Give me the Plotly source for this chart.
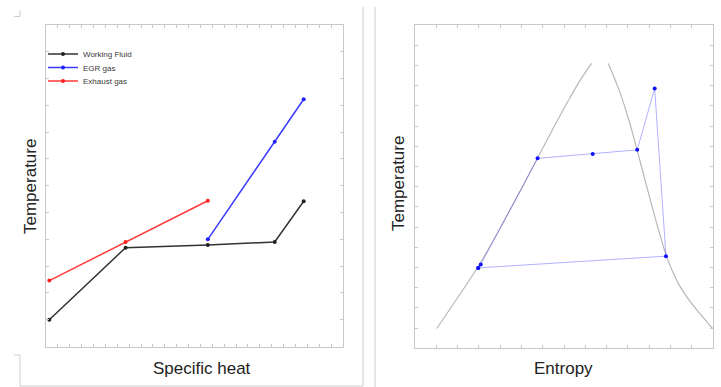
import plotly.graph_objects as go

# ---------------- Data ----------------
# Left panel: Temperature vs Specific heat
wf_x = [0.28, 6.70, 13.62, 19.25, 21.69]
wf_y = [1.00, 3.69, 3.79, 3.90, 5.42]
egr_x = [13.62, 19.25, 21.69]
egr_y = [4.00, 7.64, 9.23]
exh_x = [0.28, 6.70, 13.62]
exh_y = [2.46, 3.90, 5.44]

# Right panel: T-s diagram
dome_left_s = [1.02, 2.0, 3.0, 4.0, 5.0, 5.8, 6.5, 7.2, 7.75, 8.30]
dome_left_T = [0.98, 2.5, 4.1, 5.95, 7.9, 9.5, 10.9, 12.25, 13.25, 14.10]
dome_right_s = [9.08, 9.6, 10.1, 10.5, 10.9, 11.35, 11.8, 12.1, 12.4, 12.8, 13.2, 13.98]
dome_right_T = [14.10, 12.75, 11.1, 9.55, 7.95, 6.2, 4.6, 3.8, 3.15, 2.5, 1.95, 0.98]
cycle_s = [2.97, 3.09, 5.76, 8.35, 10.44, 11.26, 11.79, 2.97]
cycle_T = [3.98, 4.15, 9.40, 9.62, 9.82, 12.86, 4.56, 3.98]

W, H = 721, 387
FONT = "Arial, Liberation Sans, sans-serif"
FRAME = "#c8c8c8"

def px(x):
    return x / W

def py(y):
    return 1 - y / H

fig = go.Figure()

fig.add_trace(go.Scatter(x=wf_x, y=wf_y, mode="lines+markers", name="Working Fluid",
                         line=dict(color="#333333", width=1.5),
                         marker=dict(color="#222222", size=4),
                         xaxis="x", yaxis="y", legend="legend"))
fig.add_trace(go.Scatter(x=egr_x, y=egr_y, mode="lines+markers", name="EGR gas",
                         line=dict(color="#3a3aff", width=1.5),
                         marker=dict(color="#2020ff", size=4),
                         xaxis="x", yaxis="y", legend="legend2"))
fig.add_trace(go.Scatter(x=exh_x, y=exh_y, mode="lines+markers", name="Exhaust gas",
                         line=dict(color="#ff3a3a", width=1.5),
                         marker=dict(color="#ff2020", size=4),
                         xaxis="x", yaxis="y", legend="legend3"))

fig.add_trace(go.Scatter(x=dome_left_s, y=dome_left_T, mode="lines", showlegend=False,
                         line=dict(color="#b8b8b8", width=1.2, shape="spline"),
                         xaxis="x2", yaxis="y2"))
fig.add_trace(go.Scatter(x=dome_right_s, y=dome_right_T, mode="lines", showlegend=False,
                         line=dict(color="#b8b8b8", width=1.2, shape="spline"),
                         xaxis="x2", yaxis="y2"))
fig.add_trace(go.Scatter(x=cycle_s, y=cycle_T, mode="lines+markers", showlegend=False,
                         line=dict(color="rgba(60,60,255,0.4)", width=1),
                         marker=dict(color="#1010ff", size=4),
                         xaxis="x2", yaxis="y2"))

axis_common = dict(showline=True, mirror="ticks", linecolor=FRAME, linewidth=1,
                   ticks="inside", ticklen=3, tickcolor=FRAME, tickwidth=1,
                   showticklabels=False, showgrid=False, zeroline=False, dtick=1)

legend_common = dict(font=dict(family=FONT, size=8, color="#3a3a3a"),
                     bgcolor="rgba(0,0,0,0)", xanchor="left", yanchor="middle",
                     itemwidth=30, tracegroupgap=0)

title_font = dict(family=FONT, size=17, color="#222222")

fig.update_layout(
    width=W, height=H, margin=dict(l=0, r=0, t=0, b=0),
    paper_bgcolor="white", plot_bgcolor="white",
    font=dict(family=FONT),
    xaxis=dict(domain=[px(46), px(343)], range=[0, 25], anchor="y", **axis_common),
    yaxis=dict(domain=[py(346.5), py(25)], range=[0, 12], anchor="x", **axis_common),
    xaxis2=dict(domain=[px(415), px(713)], range=[0, 14], anchor="y2", **axis_common),
    yaxis2=dict(domain=[py(348.3), py(25)], range=[0, 16], anchor="x2", **axis_common),
    legend=dict(x=px(43), y=py(54), **legend_common),
    legend2=dict(x=px(43), y=py(67.5), **legend_common),
    legend3=dict(x=px(43), y=py(81), **legend_common),
    annotations=[
        dict(text="Temperature", x=px(30), y=py(187), xref="paper", yref="paper",
             xanchor="center", yanchor="middle",
             textangle=-90, showarrow=False, font=title_font),
        dict(text="Specific heat", x=px(202), y=py(368), xref="paper", yref="paper",
             xanchor="center", yanchor="middle",
             showarrow=False, font=title_font),
        dict(text="Temperature", x=px(398), y=py(184), xref="paper", yref="paper",
             xanchor="center", yanchor="middle",
             textangle=-90, showarrow=False, font=title_font),
        dict(text="Entropy", x=px(563), y=py(368), xref="paper", yref="paper",
             xanchor="center", yanchor="middle",
             showarrow=False, font=title_font),
    ],
)

border = dict(color="#cfcfcf", width=1)
segments = [
    (363, 7, 363, 386),   # left panel right edge
    (20, 386, 363, 386),  # left panel bottom edge
    (20, 355, 20, 386),   # left panel bottom-left edge
    (14, 355, 20, 355),   # bottom-left mark
    (14, 16.5, 20, 16.5), # top-left mark
    (20, 10, 20, 16.5),
    (375, 7, 375, 387),   # right panel left edge
]
for x0, y0, x1, y1 in segments:
    fig.add_shape(type="line", xref="paper", yref="paper",
                  x0=px(x0), y0=py(y0), x1=px(x1), y1=py(y1), line=border)

fig.write_html("out.html")
